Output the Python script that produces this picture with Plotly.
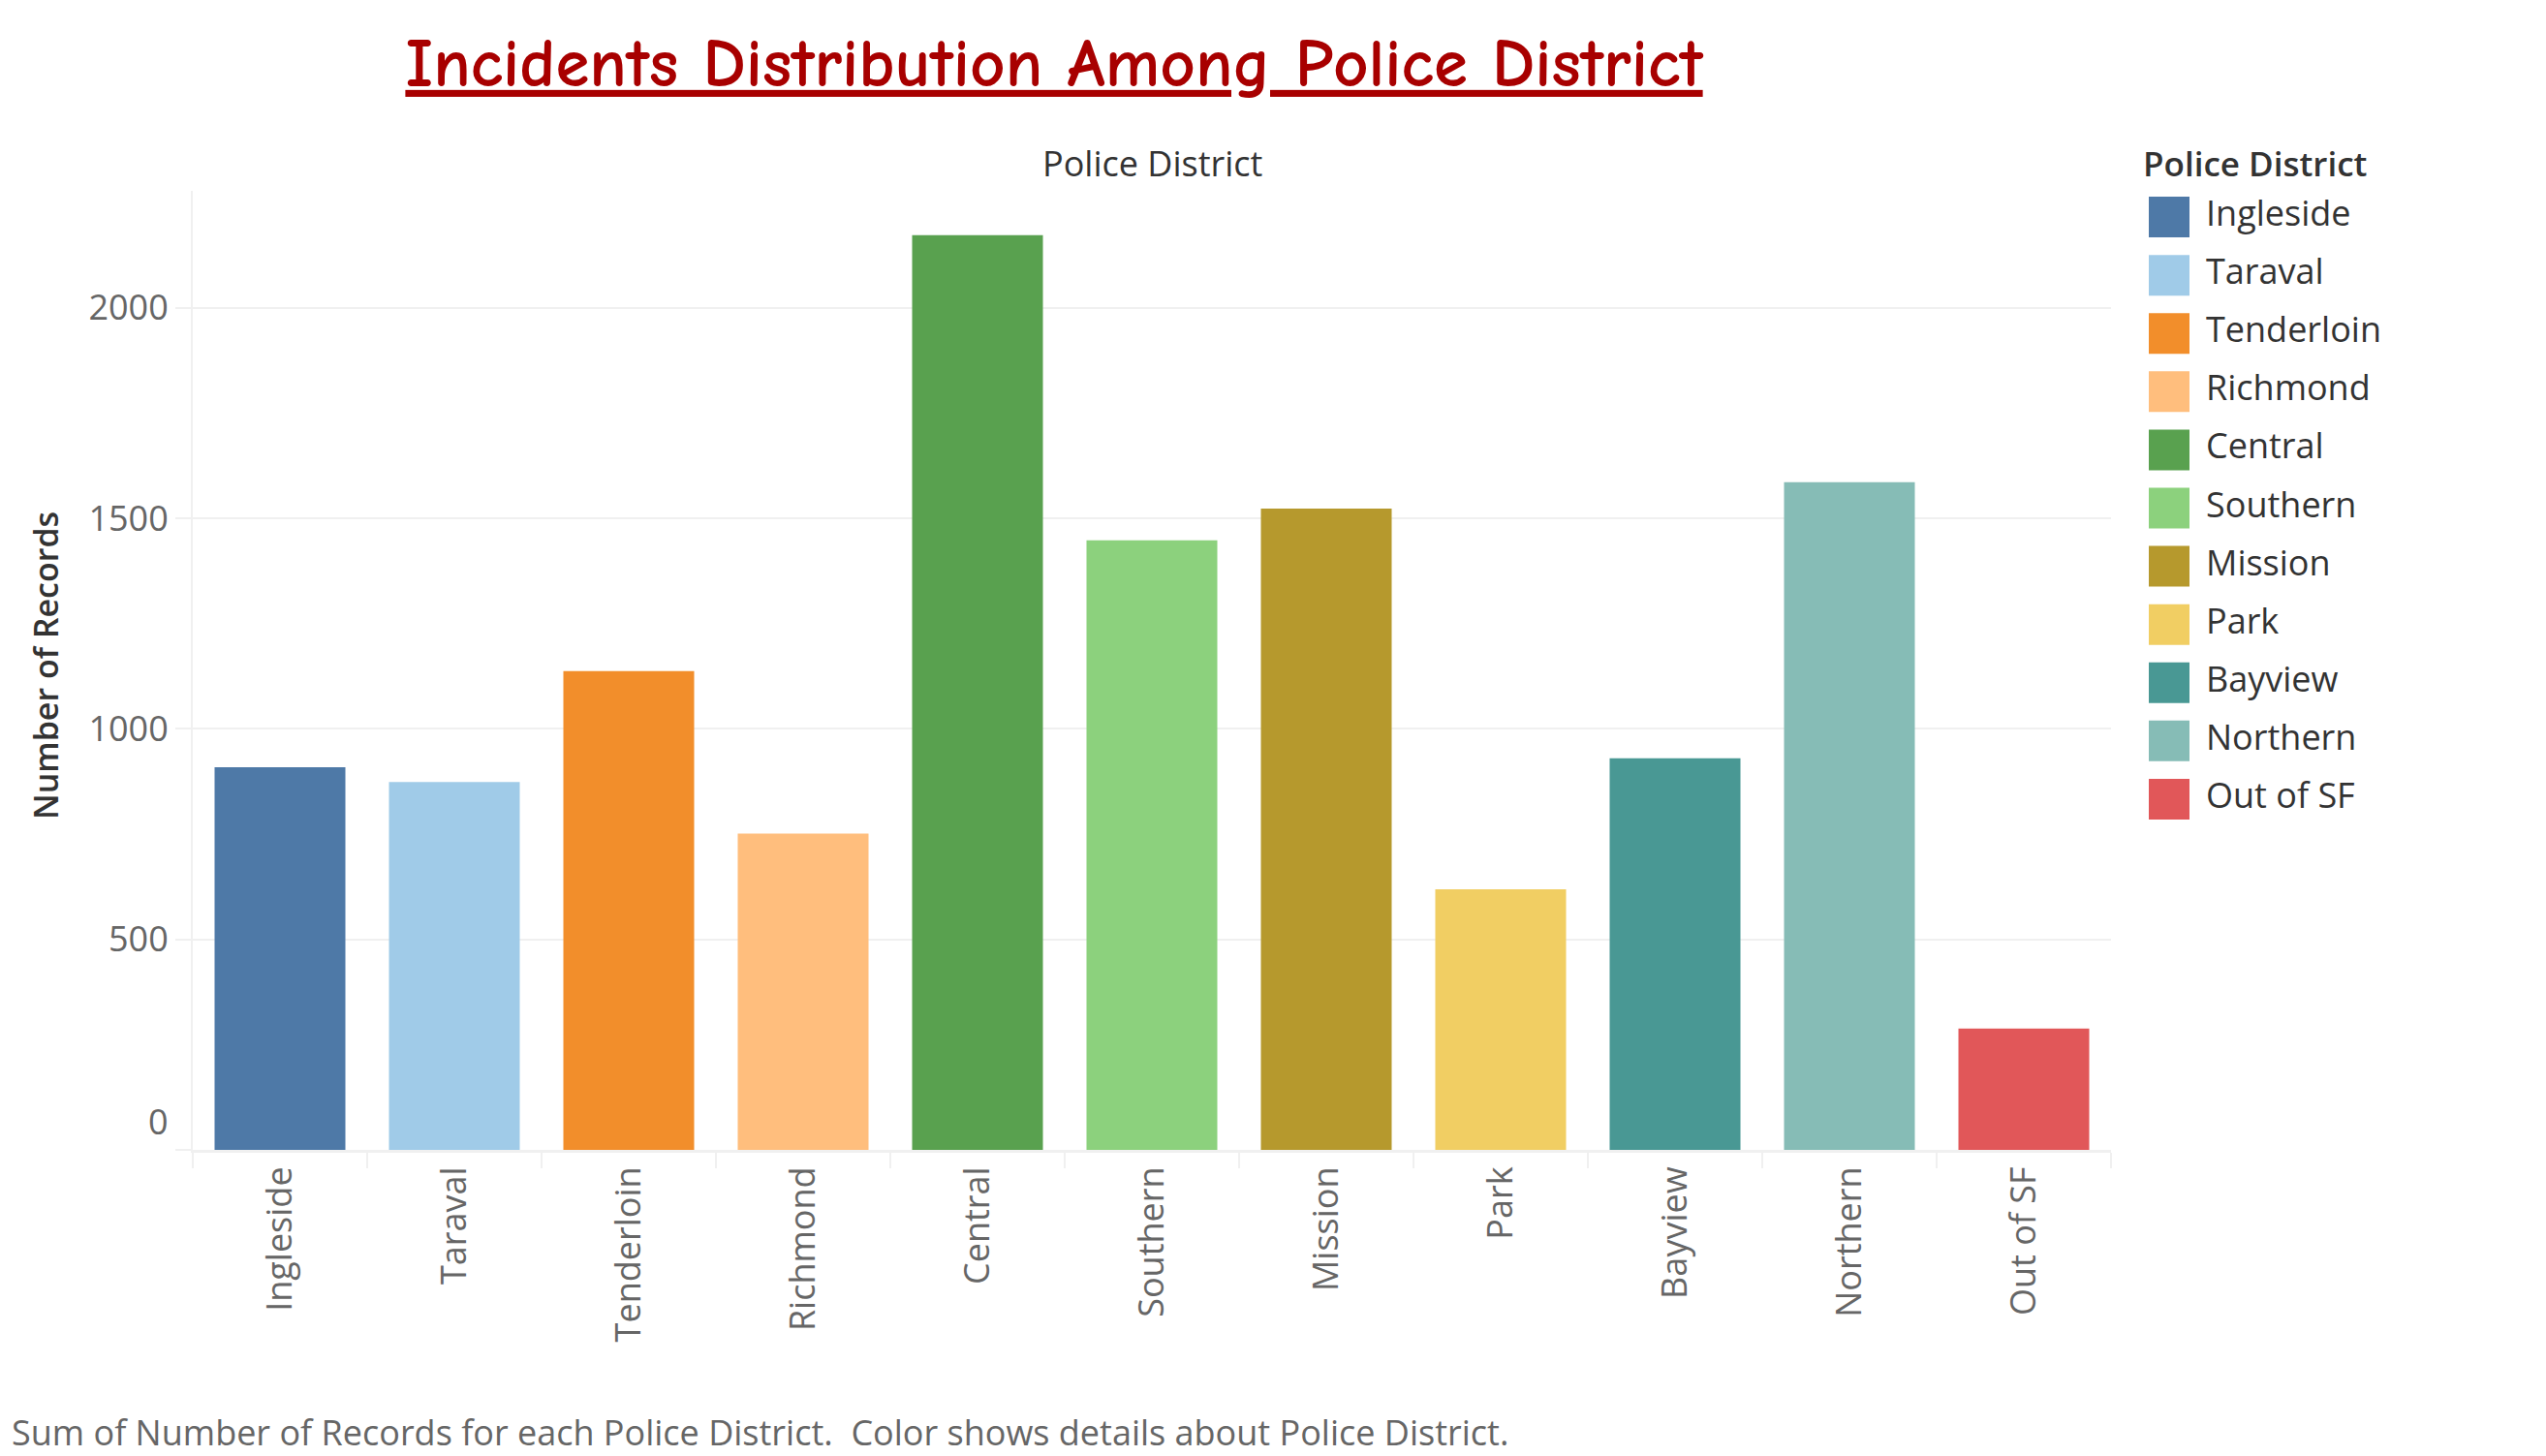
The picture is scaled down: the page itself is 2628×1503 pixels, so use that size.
import plotly.graph_objects as go

# ---- data ----
districts = ["Ingleside", "Taraval", "Tenderloin", "Richmond", "Central", "Southern",
             "Mission", "Park", "Bayview", "Northern", "Out of SF"]
records = [909, 874, 1137, 751, 2173, 1448, 1523, 619, 930, 1586, 288]
colors = ["#4e79a7", "#a0cbe8", "#f28e2b", "#ffbe7d", "#59a14f", "#8cd17d",
          "#b6992d", "#f1ce63", "#499894", "#86bcb6", "#e15759"]
y_tickvals = [0, 500, 1000, 1500, 2000]
y_ticktext = ["", "500", "1000", "1500", "2000"]

# page has an 8px body margin; figure is sized/offset to compensate
OFF = 8
W, H = 2628 - OFF, 1503 - OFF
def px_x(p): return (p - OFF) / W
def px_y(p): return 1 - (p - OFF) / H

FONT = "Open Sans, Noto Sans, sans-serif"
GRID = "#f0f0f0"

fig = go.Figure()
fig.add_trace(go.Bar(
    x=districts, y=records, marker=dict(color=colors, line=dict(width=0)),
    width=0.75, showlegend=False, xaxis="x", yaxis="y", hoverinfo="x+y"))

# custom legend drawn on its own axes
fig.add_trace(go.Scatter(
    x=[0] * len(districts), y=districts, mode="markers",
    marker=dict(symbol="square", size=42, color=colors, line=dict(width=0)),
    showlegend=False, xaxis="x2", yaxis="y2", hoverinfo="skip"))
fig.add_trace(go.Scatter(
    x=[38] * len(districts), y=districts, mode="text", text=districts,
    textposition="middle right",
    textfont=dict(family=FONT, size=36, color="#333333"),
    showlegend=False, xaxis="x2", yaxis="y2", hoverinfo="skip"))

fig.update_layout(
    width=W, height=H, margin=dict(l=0, r=0, t=0, b=0),
    paper_bgcolor="white", plot_bgcolor="white",
    font=dict(family=FONT, color="#666666"),
    title=dict(
        text="<u>Incidents Distribution Among Police District</u>",
        x=px_x(1088), xanchor="center", y=px_y(64), yanchor="middle",
        font=dict(family="Comic Sans MS, Comic Neue, DejaVu Sans, sans-serif",
                  size=71, color="#a80000", weight="bold")),
    xaxis=dict(
        domain=[px_x(199), px_x(2179)], type="category",
        showgrid=False, showline=True, linecolor=GRID, linewidth=3,
        ticks="outside", tickson="boundaries", ticklen=16, tickwidth=2, tickcolor=GRID,
        tickangle=-90, tickfont=dict(family=FONT, size=36, color="#666666"),
        anchor="y", fixedrange=True),
    yaxis=dict(
        domain=[px_y(1187), px_y(197)], range=[0, 2278],
        tickvals=y_tickvals, ticktext=y_ticktext,
        showgrid=True, gridcolor=GRID, gridwidth=2, zeroline=False,
        showline=True, linecolor=GRID, linewidth=2,
        ticks="outside", ticklen=16, tickwidth=2, tickcolor=GRID,
        tickfont=dict(family=FONT, size=36, color="#666666"),
        anchor="x", fixedrange=True),
    xaxis2=dict(domain=[px_x(2200), 1.0], range=[-39, 389], visible=False,
                anchor="y2", fixedrange=True),
    yaxis2=dict(domain=[px_y(855), px_y(194)], range=[10.5, -0.5], type="category",
                visible=False, anchor="x2", fixedrange=True),
    showlegend=False,
)

annotations = [
    # zero label sits just above the baseline
    dict(text="0", xref="paper", yref="y", x=px_x(176), y=0, xanchor="right",
         yanchor="bottom", yshift=3, showarrow=False,
         font=dict(family=FONT, size=36, color="#666666")),
    dict(text="Number of Records", xref="paper", yref="paper", x=px_x(47), y=px_y(687),
         xanchor="center", yanchor="middle", textangle=-90, showarrow=False,
         font=dict(family=FONT, size=34, color="#333333", weight=600)),
    dict(text="Police District", xref="paper", yref="paper", x=px_x(1189), y=px_y(168),
         xanchor="center", yanchor="middle", showarrow=False,
         font=dict(family=FONT, size=36, color="#333333", weight=500)),
    dict(text="Police District", xref="paper", yref="paper", x=px_x(2210), y=px_y(168),
         xanchor="left", yanchor="middle", showarrow=False,
         font=dict(family=FONT, size=35, color="#333333", weight=600)),
    dict(text="Sum of Number of Records for each Police District.  Color shows details about Police District.",
         xref="paper", yref="paper", x=px_x(10), y=px_y(1478), xanchor="left", yanchor="middle",
         showarrow=False, font=dict(family=FONT, size=36, color="#666666")),
]
fig.update_layout(annotations=annotations)

fig.write_html("out.html")
